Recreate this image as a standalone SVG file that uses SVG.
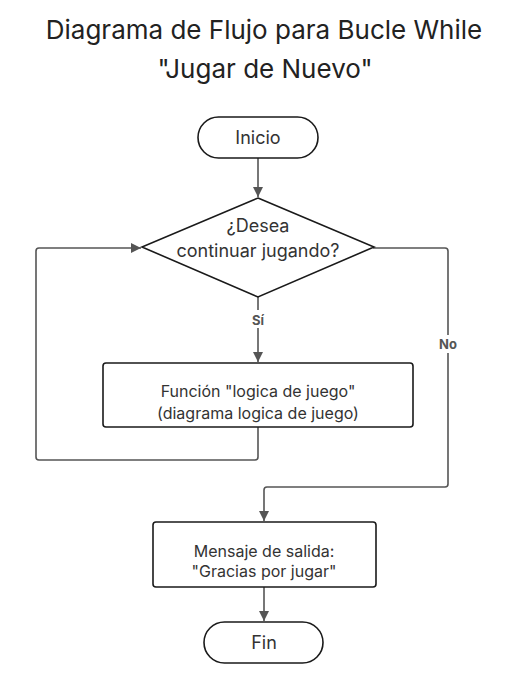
<svg xmlns="http://www.w3.org/2000/svg" width="515" height="678" viewBox="0 0 515 678">
<defs>
<marker id="ah" viewBox="0 0 10 10" refX="10" refY="5" markerWidth="10" markerHeight="10" markerUnits="userSpaceOnUse" orient="auto">
<path d="M0,0 L10,5 L0,10 z" fill="#555"/>
</marker>
</defs>
<style>
.node{fill:#fff;stroke:#1a1a1a;stroke-width:1.6}
.t{font-family:Inter,"Noto Sans",sans-serif;font-size:16px;fill:#333;text-anchor:middle}
.tl{font-family:Inter,"Noto Sans",sans-serif;font-size:18px;fill:#333;text-anchor:middle}
.title{font-family:Inter,"Noto Sans",sans-serif;font-size:26px;fill:#222;text-anchor:middle}
.lbl{font-family:Inter,"Noto Sans",sans-serif;font-size:13px;font-weight:bold;fill:#555;text-anchor:middle}
.c{fill:none;stroke:#555;stroke-width:1.6}
</style>
<rect width="515" height="678" fill="#fff"/>
<g id="title">
<text class="title" x="264" y="39">Diagrama de Flujo para Bucle While</text>
<text class="title" x="265" y="78">"Jugar de Nuevo"</text>
</g>
<g id="connectors">
<path class="c" d="M258,158 L258,197" marker-end="url(#ah)"/>
<path class="c" d="M258,297 L258,362" marker-end="url(#ah)"/>
<path class="c" d="M258,427 L258,457 Q258,460 255,460 L39,460 Q36,460 36,457 L36,251 Q36,248 39,248 L141,248" marker-end="url(#ah)"/>
<path class="c" d="M373,248 L445,248 Q448,248 448,251 L448,484 Q448,487 445,487 L267,487 Q264,487 264,490 L264,521" marker-end="url(#ah)"/>
<path class="c" d="M264,587 L264,621" marker-end="url(#ah)"/>
<rect x="248" y="310" width="20" height="18" fill="#fff"/>
<text class="lbl" x="258" y="325">Sí</text>
<rect x="436" y="335" width="24" height="18" fill="#fff"/>
<text class="lbl" x="448" y="349">No</text>
</g>
<g id="inicio">
<rect class="node" x="198" y="117" width="120" height="41" rx="20.5"/>
<text class="tl" x="258" y="144">Inicio</text>
</g>
<g id="decision">
<path class="node" d="M258,198 L374,247 L258,297 L142,247 Z"/>
<text class="tl" x="258" y="232">¿Desea</text>
<text class="tl" x="258" y="257">continuar jugando?</text>
</g>
<g id="funcion">
<rect class="node" x="103" y="363" width="310" height="64" rx="3"/>
<text class="t" x="258" y="397">Función "logica de juego"</text>
<text class="t" x="258" y="419">(diagrama logica de juego)</text>
</g>
<g id="mensaje">
<rect class="node" x="153" y="522" width="223" height="65" rx="3"/>
<text class="t" x="264" y="557">Mensaje de salida:</text>
<text class="t" x="264" y="577">"Gracias por jugar"</text>
</g>
<g id="fin">
<rect class="node" x="204" y="622" width="119" height="41" rx="20.5"/>
<text class="tl" x="264" y="649">Fin</text>
</g>
</svg>
